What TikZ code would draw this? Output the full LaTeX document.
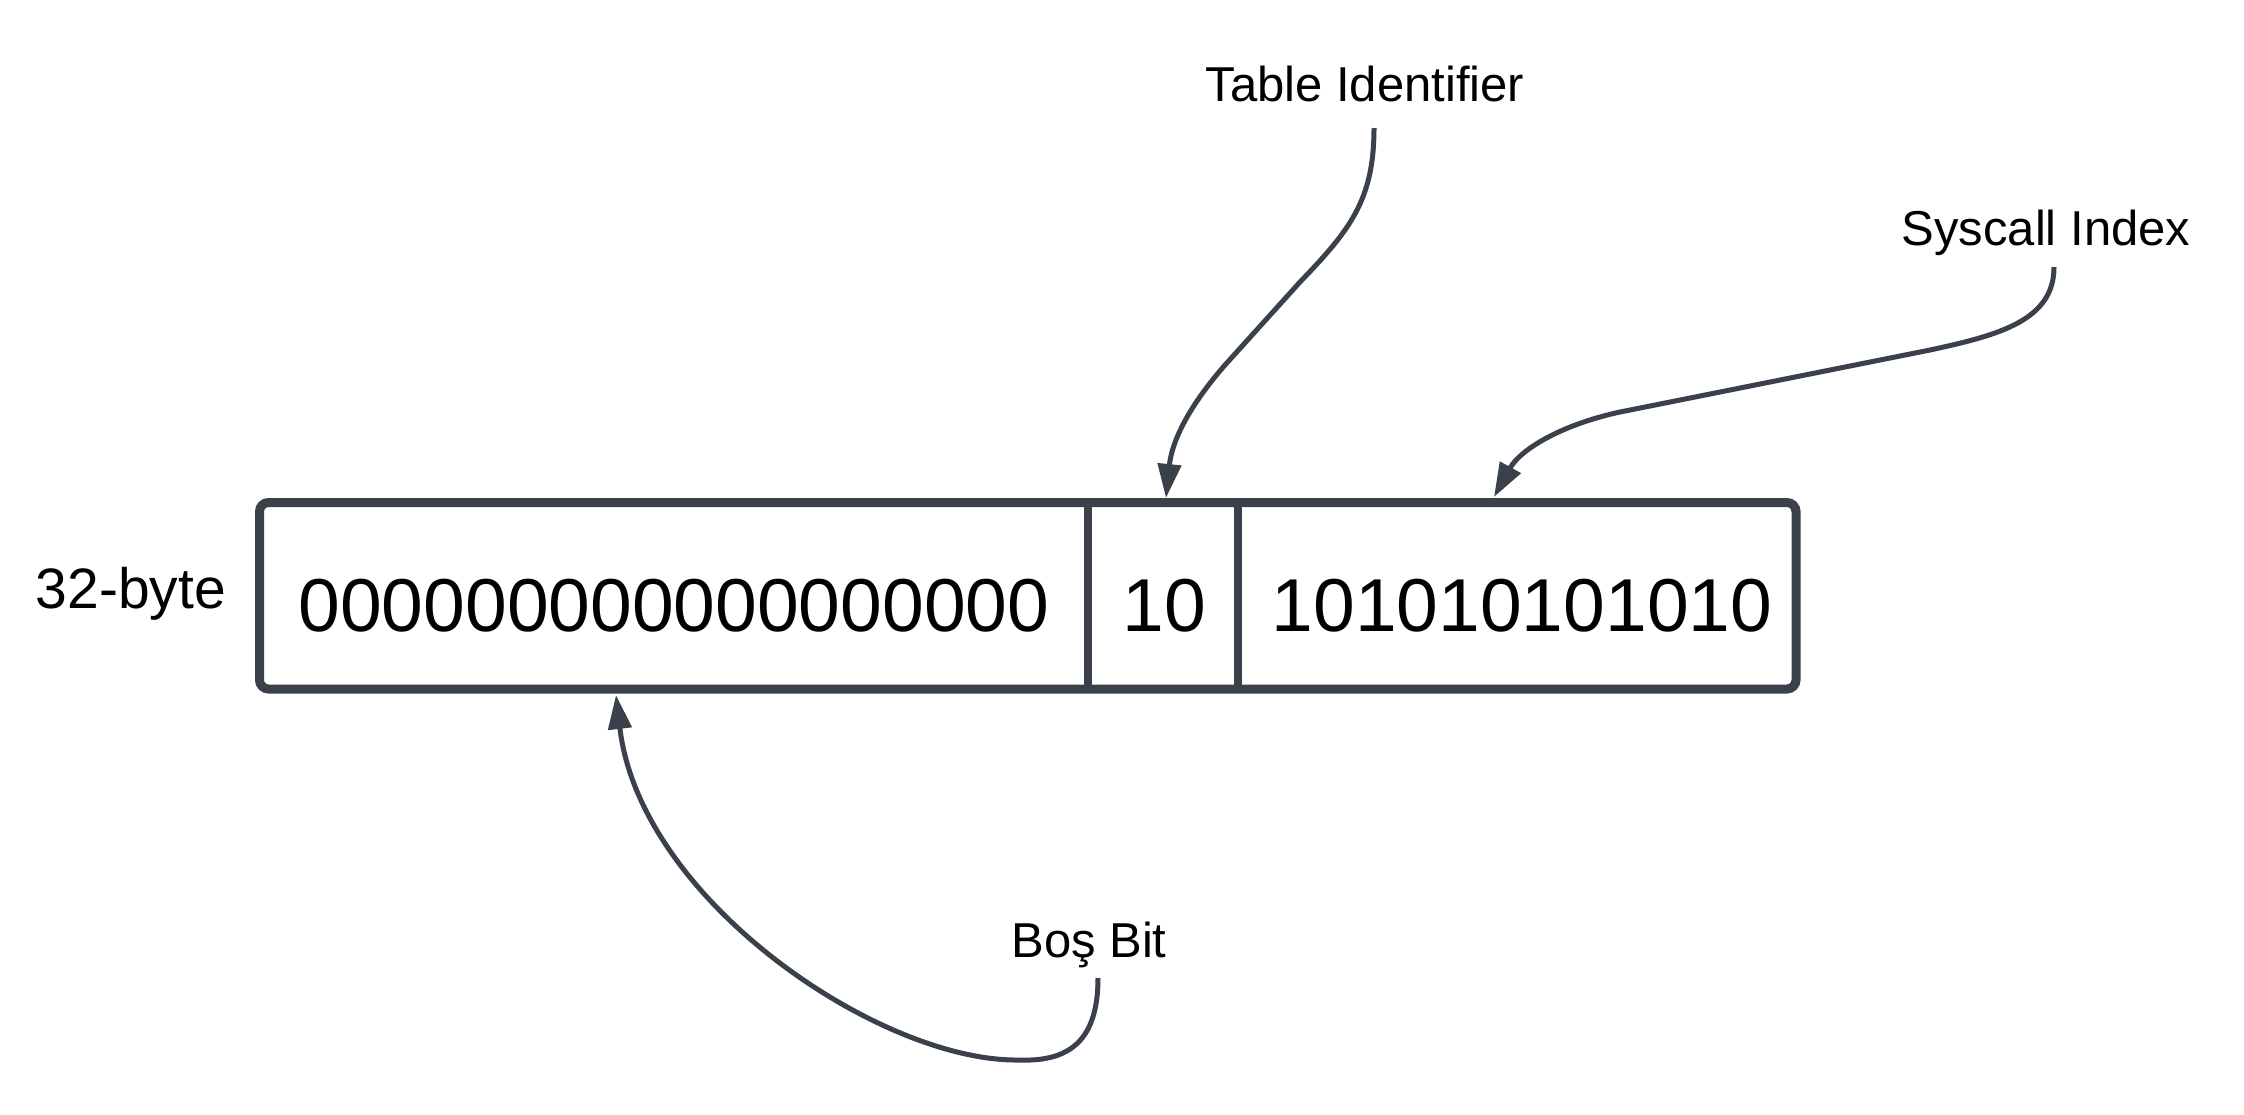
\documentclass[tikz,border=0pt]{standalone}
\usepackage{fontspec}
\setmainfont{Liberation Sans}
\usetikzlibrary{arrows.meta}
\definecolor{ink}{HTML}{3A414B}
\begin{document}
\begin{tikzpicture}[x=1pt,y=-1pt,
  framebox/.style={draw=ink, line width=9pt, rounded corners=9pt, inner sep=0pt, outer sep=0pt, minimum height=186.5pt},
  cell/.style={inner sep=0pt, outer sep=0pt, minimum height=186.5pt},
  divider/.style={draw=ink, line width=8pt},
  bits/.style={anchor=base, inner sep=0pt, font=\fontsize{75}{90}\selectfont},
  lab/.style={anchor=base, inner sep=0pt, font=\fontsize{49}{59}\selectfont},
  conn/.style={draw=ink, line width=5pt, -{Triangle[length=34pt,width=23pt]}}
]
\fill[white] (0,0) rectangle (2244,1114);
\useasboundingbox (0,0) rectangle (2244,1114);

% register box and cells
\node[framebox, minimum width=1536.5pt] (box) at (1027.75,595.75) {};
\node[cell, minimum width=828pt] (c1) at (673.5,595.75) {};
\node[cell, minimum width=150pt] (c2) at (1162.5,595.75) {};
\node[cell, minimum width=558.5pt] (c3) at (1516.75,595.75) {};
\draw[divider] (c1.north east) -- (c1.south east);
\draw[divider] (c2.north east) -- (c2.south east);

% bit texts
\node[bits] (t1) at (674,631) {000000000000000000};
\node[bits] (t2) at (1164,631) {10};
\node[bits] (t3) at (1522,631) {101010101010};

% labels
\node[anchor=base, inner sep=0pt, font=\fontsize{57}{68}\selectfont] (size) at (131,608) {32-byte};
\node[lab] (ti) at (1365,101) {Table Identifier};
\node[lab] (si) at (2046,245) {Syscall Index};
\node[lab] (bb) at (1089,957) {Boş Bit};

% connector ends
\coordinate (tiS) at (1374,128);
\coordinate (tiE) at (1166,498);
\coordinate (siS) at (2054,267);
\coordinate (siE) at (1494,497);
\coordinate (bbS) at (1098,978);
\coordinate (bbE) at (616,695);

\draw[conn] (tiS) .. controls (1374,200) and (1350,230) .. (1300,282) -- (1225,365) .. controls (1190,405) and (1172,440) .. (tiE);
\draw[conn] (siS) .. controls (2054,320) and (2000,335) .. (1930,350) -- (1620,412) .. controls (1560,425) and (1520,450) .. (siE);
\draw[conn] (bbS) .. controls (1098,1040) and (1070,1062) .. (1019,1060) .. controls (880,1062) and (640,900) .. (bbE);
\end{tikzpicture}
\end{document}
